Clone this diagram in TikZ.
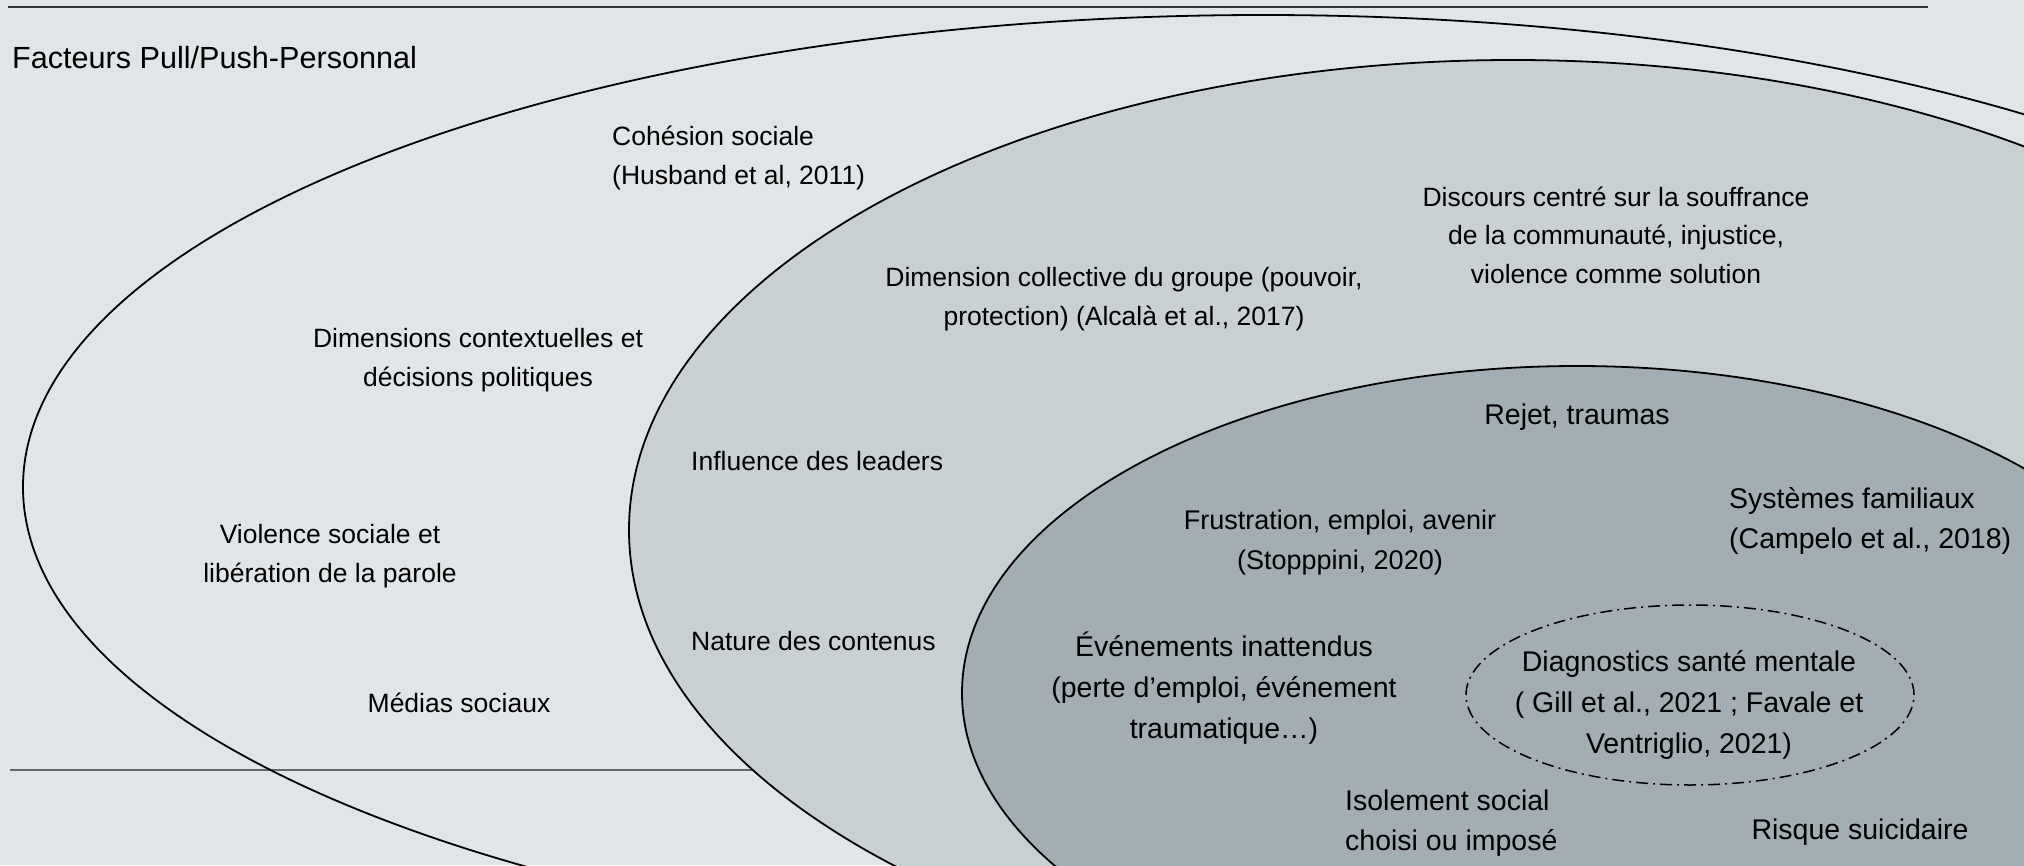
\documentclass[tikz,border=0pt]{standalone}
\usepackage{fontspec}
\setmainfont{Liberation Sans}
\definecolor{bgcol}{RGB}{225,229,232}
\definecolor{midcol}{RGB}{200,208,212}
\definecolor{incol}{RGB}{162,174,180}
\tikzset{
  lab/.style={inner sep=0pt, align=center, text=black, font=\fontsize{26.5}{38.5}\selectfont},
  labw/.style={lab, align=left, anchor=west},
  labi/.style={lab, font=\fontsize{28.5}{41}\selectfont},
  labiw/.style={labi, align=left, anchor=west},
  ring/.style={draw=black, line width=1.8pt},
  rule/.style={line width=1.6pt},
}
\begin{document}
\begin{tikzpicture}[x=1pt, y=-1pt]
\useasboundingbox (0,0) rectangle (2024,865);
\clip (0,0) rectangle (2024,865);
\fill[bgcol] (0,0) rectangle (2024,865);
% rules
\coordinate (t1) at (8,7);
\coordinate (t2) at (1928,7);
\coordinate (b1) at (10,770);
\coordinate (b2) at (900,770);
\draw[rule, draw=black!80] (t1) -- (t2);
\draw[rule, draw=black!60] (b1) -- (b2);
% outer ellipse
\draw[ring] (1263,487) ellipse [x radius=1240pt, y radius=472pt];
% middle ellipse
\draw[ring, fill=midcol] (1513,530) ellipse [x radius=884pt, y radius=470pt];
% inner ellipse
\draw[ring, fill=incol] (1577,693) ellipse [x radius=615pt, y radius=327pt];
% dash-dot ellipse
\draw[line width=1.5pt, dash pattern=on 12pt off 5pt on 2pt off 5pt] (1690,695) ellipse [x radius=224pt, y radius=90pt];
% texts
\node[inner sep=0pt, anchor=west, font=\fontsize{30.6}{36}\selectfont] (title) at (12,58) {Facteurs Pull/Push-Personnal};
\node[labw] (coh) at (612,158) {Cohésion sociale\\(Husband et al, 2011)};
\node[lab] (dimctx) at (478,360) {Dimensions contextuelles et\\décisions politiques};
\node[lab] (viol) at (330,556) {Violence sociale et\\libération de la parole};
\node[lab] (medias) at (459,703) {Médias sociaux};
\node[labw] (infl) at (691,461) {Influence des leaders};
\node[labw] (nat) at (691,641) {Nature des contenus};
\node[lab] (dimcol) at (1124,299) {Dimension collective du groupe (pouvoir,\\protection) (Alcalà et al., 2017)};
\node[lab] (disc) at (1616,235) {Discours centré sur la souffrance\\de la communauté, injustice,\\violence comme solution};
\node[labi] (rejet) at (1577,417) {Rejet, traumas};
\node[labiw, font=\fontsize{28.5}{40}\selectfont] (syst) at (1729,521) {Systèmes familiaux\\(Campelo et al., 2018)};
\node[labi, font=\fontsize{27}{40}\selectfont] (frus) at (1340,543) {Frustration, emploi, avenir\\(Stopppini, 2020)};
\node[labi] (even) at (1224,688) {Événements inattendus\\(perte d’emploi, événement\\traumatique…)};
\node[labi] (diag) at (1689,705) {Diagnostics santé mentale\\( Gill et al., 2021 ; Favale et\\Ventriglio, 2021)};
\node[labiw, font=\fontsize{28.5}{40}\selectfont] (isol) at (1345,823) {Isolement social\\choisi ou imposé};
\node[labi] (risque) at (1860,832) {Risque suicidaire};
\end{tikzpicture}
\end{document}
